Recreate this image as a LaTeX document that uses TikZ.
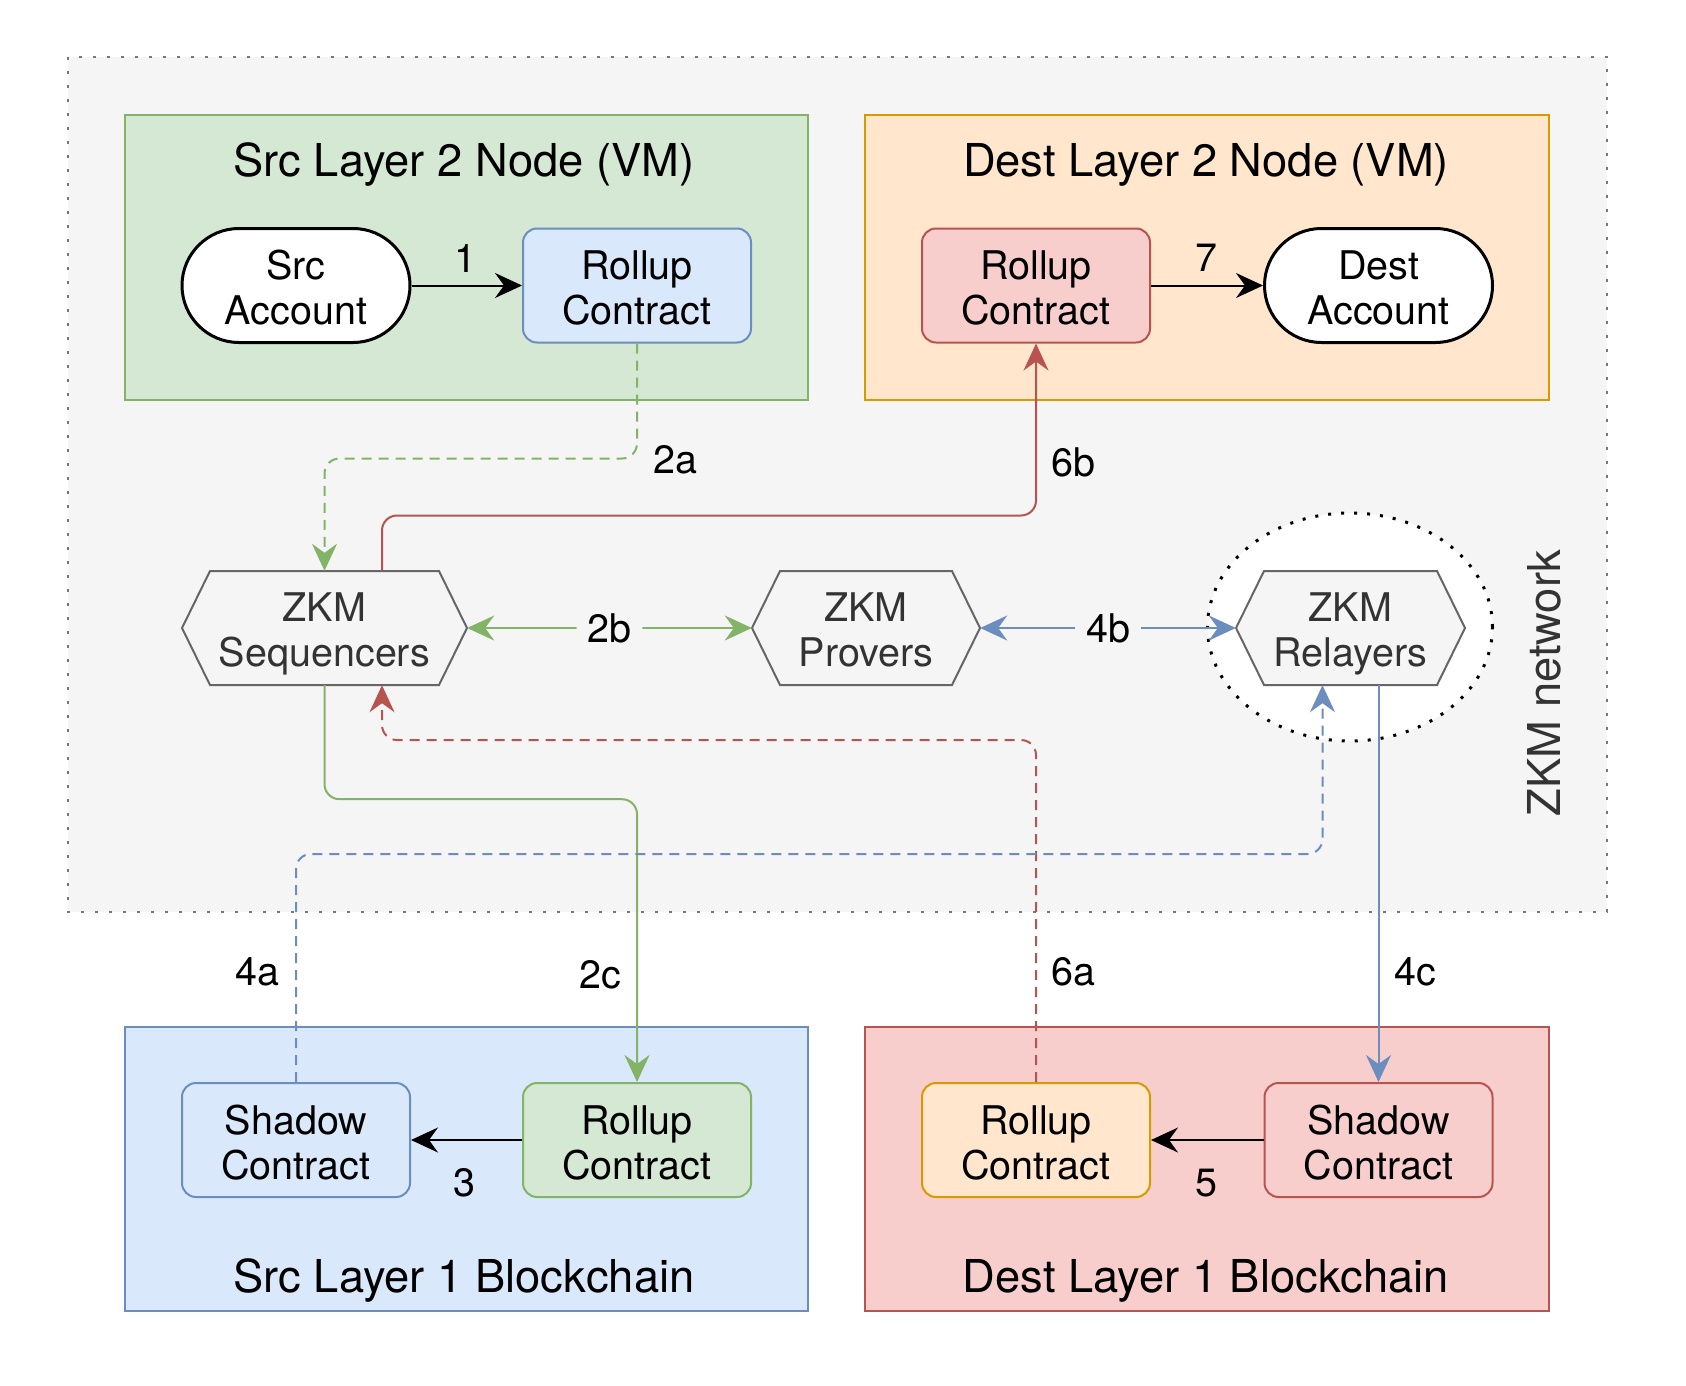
\documentclass[tikz,border=0pt]{standalone}
\usepackage{fontspec}
\setmainfont{TeX Gyre Heros}
\usetikzlibrary{arrows.meta,calc}
\definecolor{gfill}{HTML}{D5E8D4}
\definecolor{gline}{HTML}{82B366}
\definecolor{bfill}{HTML}{DAE8FC}
\definecolor{bline}{HTML}{6C8EBF}
\definecolor{ofill}{HTML}{FFE6CC}
\definecolor{oline}{HTML}{D79B00}
\definecolor{rfill}{HTML}{F8CECC}
\definecolor{rline}{HTML}{B85450}
\definecolor{bggray}{HTML}{F5F5F5}
\definecolor{hexline}{HTML}{666666}
\definecolor{hextext}{HTML}{333333}
\definecolor{dotgray}{HTML}{777777}
\newcommand{\nodefont}{\fontsize{39.5}{45}\selectfont}
\newcommand{\titlefont}{\fontsize{45.3}{52}\selectfont}
\newcommand{\zkmhex}[4]{%
  \path[hexshape] ({#2-#3/2},628) -- ({#2-#3/2+28},571) -- ({#2+#3/2-28},571)
    -- ({#2+#3/2},628) -- ({#2+#3/2-28},685) -- ({#2-#3/2+28},685) -- cycle;
  \node[hexnode, minimum width=#3pt, label={[hextxt]center:{#4\vphantom{y}}}] (#1) at (#2,628) {};}
\begin{document}
\begin{tikzpicture}[x=1pt,y=-1pt,
  area/.style={line width=2.2pt},
  title/.style={font=\titlefont, inner sep=0pt},
  ntxt/.style={font=\nodefont, align=center, inner sep=0pt, yshift=-2.5pt},
  hextxt/.style={font=\nodefont, align=center, inner sep=0pt, yshift=-5.5pt, text=hextext},
  cbox/.style={draw, line width=2pt, minimum width=228pt, minimum height=114pt,
    inner sep=0pt, rounded corners=14pt},
  acct/.style={draw=black, fill=white, line width=3pt, minimum width=228pt,
    minimum height=114pt, inner sep=0pt, rounded corners=57pt},
  hexshape/.style={fill=bggray, draw=hexline, line width=2pt},
  hexnode/.style={minimum height=114pt, inner sep=0pt},
  conn/.style={line width=2pt, rounded corners=15pt},
  dashconn/.style={conn, dash pattern=on 10pt off 7pt},
  tip/.tip={Stealth[length=27pt,width=25pt,inset=9pt]},
  arr/.style={-tip},
  darr/.style={tip-tip},
  lab/.style={font=\nodefont, inner sep=0pt},
]
\useasboundingbox (0,0) rectangle (1686,1386);
\fill[white] (0,0) rectangle (1686,1386);
% ZKM network area
\draw[fill=bggray, draw=dotgray, line width=2.8pt, dash pattern=on 2.8pt off 11.2pt]
  (68,57) rectangle (1607,912);
% layer boxes
\draw[area, fill=gfill, draw=gline] (125,115) rectangle (808,400);
\draw[area, fill=ofill, draw=oline] (865,115) rectangle (1549,400);
\draw[area, fill=bfill, draw=bline] (125,1027) rectangle (808,1311);
\draw[area, fill=rfill, draw=rline] (865,1027) rectangle (1549,1311);
\node[title] (t1) at (464,165) {Src Layer 2 Node (VM)};
\node[title] (t2) at (1206,165) {Dest Layer 2 Node (VM)};
\node[title] (t3) at (464,1281) {Src Layer 1 Blockchain};
\node[title] (t4) at (1206,1281) {Dest Layer 1 Blockchain};
% relayer ellipse
\draw[fill=white, draw=black, line width=3pt, dash pattern=on 3pt off 10pt]
  (1350,627) ellipse [x radius=142.5pt, y radius=114pt];
\node[font=\titlefont, text=hextext, rotate=90, inner sep=0pt] (net) at (1544,683) {ZKM network};
% nodes
\node[acct, label={[ntxt]center:{Src\\Account}}] (srcacc) at (296,285.5) {};
\node[cbox, fill=bfill, draw=bline, label={[ntxt]center:{Rollup\\Contract}}] (srcroll) at (637,285.5) {};
\node[cbox, fill=rfill, draw=rline, label={[ntxt]center:{Rollup\\Contract}}] (dstroll) at (1036,285.5) {};
\node[acct, label={[ntxt]center:{Dest\\Account}}] (dstacc) at (1378.5,285.5) {};
\node[cbox, fill=bfill, draw=bline, label={[ntxt]center:{Shadow\\Contract}}] (sshadow) at (296,1140) {};
\node[cbox, fill=gfill, draw=gline, label={[ntxt]center:{Rollup\\Contract}}] (l1roll) at (637,1140) {};
\node[cbox, fill=ofill, draw=oline, label={[ntxt]center:{Rollup\\Contract}}] (dl1roll) at (1036,1140) {};
\node[cbox, fill=rfill, draw=rline, label={[ntxt]center:{Shadow\\Contract}}] (dshadow) at (1378.5,1140) {};
\zkmhex{seq}{324.5}{285}{ZKM\\Sequencers}
\zkmhex{prov}{866}{228}{ZKM\\Provers}
\zkmhex{rel}{1350.5}{229}{ZKM\\Relayers}
% connectors
\draw[conn, arr, black] (srcacc) -- (srcroll);
\draw[conn, arr, black] (dstroll) -- (dstacc);
\draw[conn, arr, black] (l1roll) -- (sshadow);
\draw[conn, arr, black] (dshadow) -- (dl1roll);
\draw[dashconn, arr, gline] (srcroll.south) -- ++(0,115) -| (seq.north);
\draw[conn, arr, rline] ([xshift=57.5pt]seq.north) |- ($(dstroll.south)+(0,172)$) -- (dstroll.south);
\draw[conn, arr, gline] (seq.south) -- ++(0,114) -| (l1roll.north);
\draw[dashconn, arr, rline] (dl1roll.north) -- ++(0,-342) -| ([xshift=57.5pt]seq.south);
\draw[dashconn, arr, bline] (sshadow.north) -- ++(0,-228) -| ([xshift=-28pt]rel.south);
\draw[conn, arr, bline] (dshadow.north |- rel.south) -- (dshadow.north);
\draw[conn, darr, gline] (seq.east) -- node[lab, fill=bggray, inner xsep=11pt, inner ysep=4pt, text=black] (l2b) {2b} (prov.west);
\draw[conn, darr, bline] (prov.east) -- node[lab, fill=bggray, inner xsep=11pt, inner ysep=4pt, text=black] (l4b) {4b} (rel.west);
% labels
\node[lab] (l1) at (465,258) {1};
\node[lab] (l7) at (1206,258) {7};
\node[lab] (l2a) at (675,460) {2a};
\node[lab] (l6b) at (1073,462) {6b};
\node[lab] (l4a) at (257,972) {4a};
\node[lab] (l2c) at (600,975) {2c};
\node[lab] (l6a) at (1073,972) {6a};
\node[lab] (l4c) at (1415,972) {4c};
\node[lab] (l3) at (464,1183) {3};
\node[lab] (l5) at (1206,1183) {5};
\end{tikzpicture}
\end{document}
